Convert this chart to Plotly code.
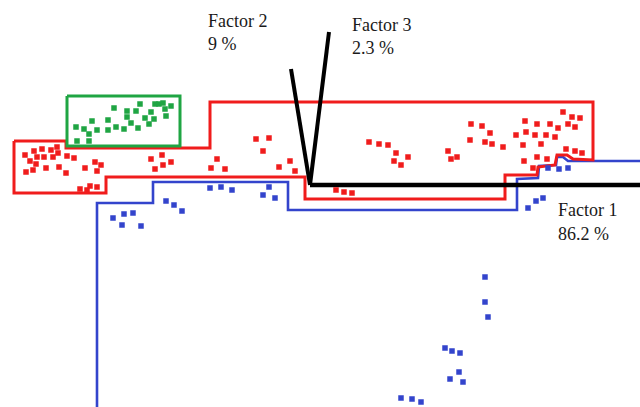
import plotly.graph_objects as go

# ---- outlines (image-pixel coordinate space) ----
green_box_x = [67, 180, 180, 67, 67]
green_box_y = [96, 96, 146, 146, 96]

red_outline_x = [14, 66, 66, 210, 210, 593, 593, 573, 567, 557, 555, 538, 537, 505, 505, 305, 305, 106, 106, 14, 14]
red_outline_y = [141, 141, 148, 148, 102, 102, 160, 159, 155, 155, 165, 167, 175, 175, 199, 199, 177, 177, 193, 193, 141]

blue_outline_x = [97, 97, 153, 153, 288, 288, 517, 517, 538, 539, 556, 557, 563, 568, 593, 640]
blue_outline_y = [407, 203, 203, 182, 182, 210, 210, 179, 178, 166, 165, 157, 157, 161, 161, 161]

# ---- factor axes ----
factor1_x = [310, 640]
factor1_y = [185, 185]
factor2_x = [291, 310]
factor2_y = [69, 185]
factor3_x = [329, 310]
factor3_y = [32, 185]

# ---- points ----
green_x = [77, 89, 76, 84, 89, 97, 92, 108, 108, 114, 116, 124, 127, 127, 131, 136, 140, 138, 145, 149, 151, 155, 159, 163, 165, 171, 166, 154]
green_y = [141, 141, 127, 129, 134, 130, 121, 130, 120, 108, 127, 129, 111, 117, 123, 111, 104, 128, 118, 124, 112, 104, 104, 103, 109, 106, 116, 119]

red_x = [25, 34, 42, 51, 57, 58, 30, 37, 44, 53, 67, 74, 36, 26, 33, 46, 59, 66, 85, 95, 101, 97, 80, 90, 97, 87,
         151, 162, 171, 155, 163, 211, 217, 225, 256, 269, 263, 279, 290, 295,
         336, 344, 352, 369, 379, 388, 396, 394, 401, 408, 448, 451, 457,
         471, 482, 490, 470, 485, 492, 503, 516, 525, 537, 526, 535, 523, 541, 546, 550, 558, 555,
         563, 572, 580, 568, 575, 524, 533, 537, 547, 566, 575, 582]
red_y = [155, 151, 149, 150, 147, 153, 161, 157, 157, 157, 156, 158, 164, 172, 170, 168, 167, 173, 168, 162, 165, 171, 189, 186, 187, 190,
         159, 155, 162, 169, 165, 168, 159, 169, 139, 138, 151, 167, 161, 171,
         190, 192, 193, 142, 144, 145, 153, 161, 165, 157, 151, 159, 157,
         124, 126, 133, 140, 142, 144, 147, 135, 121, 124, 132, 135, 145, 144, 135, 124, 128, 137,
         112, 117, 118, 124, 127, 161, 168, 157, 159, 149, 151, 153]

blue_x = [113, 124, 133, 122, 141, 166, 174, 182, 210, 221, 232, 263, 269, 275,
          548, 559, 568, 528, 536, 543,
          485, 485, 488, 445, 452, 460, 459, 450, 463, 401, 412, 421]
blue_y = [218, 214, 213, 225, 226, 201, 205, 211, 188, 187, 190, 195, 187, 198,
          168, 169, 168, 208, 201, 198,
          277, 302, 317, 348, 351, 353, 372, 379, 382, 398, 399, 402]

# ---- labels ----
label_text = ["Factor 2", "9 %", "Factor 3", "2.3 %", "Factor 1", "86.2 %"]
label_x = [206, 206, 350, 350, 556, 556]
label_y = [21, 44, 25, 48, 210, 234]

RED = "#f01c1c"
GREEN = "#1fa543"
BLUE = "#3344cc"

fig = go.Figure()

def line(xs, ys, color, width):
    fig.add_trace(go.Scatter(x=xs, y=ys, mode="lines", line=dict(color=color, width=width),
                             hoverinfo="skip", showlegend=False))

line(blue_outline_x, blue_outline_y, BLUE, 2.6)
line(red_outline_x, red_outline_y, RED, 3)
line(green_box_x, green_box_y, GREEN, 3)
line(factor1_x, factor1_y, "black", 4.5)
line(factor2_x, factor2_y, "black", 4)
line(factor3_x, factor3_y, "black", 4)

def pts(xs, ys, color):
    fig.add_trace(go.Scatter(x=xs, y=ys, mode="markers",
                             marker=dict(symbol="square", size=5.5, color=color, line=dict(width=0)),
                             hoverinfo="skip", showlegend=False))

pts(green_x, green_y, GREEN)
pts(red_x, red_y, RED)
pts(blue_x, blue_y, BLUE)

for t, x, y in zip(label_text, label_x, label_y):
    fig.add_annotation(x=x, y=y, text=t, showarrow=False, xanchor="left", yanchor="middle",
                       font=dict(family="Liberation Serif", size=18, color="#1a1a1a"))

fig.update_layout(
    width=640, height=407,
    margin=dict(l=0, r=0, t=0, b=0),
    paper_bgcolor="white", plot_bgcolor="white",
    xaxis=dict(range=[0, 640], visible=False, fixedrange=True),
    yaxis=dict(range=[407, 0], visible=False, fixedrange=True),
)

fig.write_html("out.html", config={"displayModeBar": False},
               post_script="document.body.style.margin='0';document.body.style.overflow='hidden';")
